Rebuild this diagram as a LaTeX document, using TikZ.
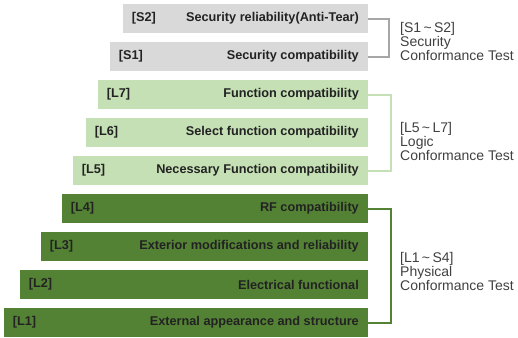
\documentclass[tikz,border=0pt]{standalone}
\usepackage{fontspec}
\setmainfont{Liberation Sans}
\usetikzlibrary{calc}
\definecolor{secgray}{HTML}{D9D9D9}
\definecolor{secline}{HTML}{A6A6A6}
\definecolor{logicgreen}{HTML}{C5E0B4}
\definecolor{physgreen}{HTML}{548235}
\definecolor{bartext}{HTML}{222222}
\definecolor{grouptext}{HTML}{404040}
\tikzset{
  bar/.style={fill=#1, draw=none, minimum height=29pt, anchor=north east, inner sep=0pt},
  tagtext/.style={anchor=west, inner sep=0pt, font=\bfseries\fontsize{12.7}{14}\selectfont, text=bartext},
  nametext/.style={anchor=east, inner sep=0pt, font=\bfseries\fontsize{12.7}{14}\selectfont, text=bartext},
  grouplabel/.style={anchor=north west, inner sep=0pt, align=left, font=\fontsize{14}{12.5}\selectfont, text=grouptext},
  bracket/.style={draw=#1, line width=2pt}
}
\begin{document}
\begin{tikzpicture}[x=1pt,y=-1pt]
  \useasboundingbox (0,0) rectangle (518,337);

  % stacked test bars: right edges aligned, left edges stepping outward
  \node[bar=secgray,    minimum width=245pt] (s2) at (368,4)   {};
  \node[bar=secgray,    minimum width=258pt] (s1) at (368,42)  {};
  \node[bar=logicgreen, minimum width=270pt] (l7) at (368,80)  {};
  \node[bar=logicgreen, minimum width=282pt] (l6) at (368,118) {};
  \node[bar=logicgreen, minimum width=295pt] (l5) at (368,156) {};
  \node[bar=physgreen,  minimum width=306pt] (l4) at (368,194) {};
  \node[bar=physgreen,  minimum width=327pt] (l3) at (368,232) {};
  \node[bar=physgreen,  minimum width=348pt] (l2) at (368,270) {};
  \node[bar=physgreen,  minimum width=364pt] (l1) at (368,308) {};

  % bar captions
  \foreach \b/\tag/\name in {
      s2/S2/Security reliability(Anti-Tear),
      s1/S1/Security compatibility,
      l7/L7/Function compatibility,
      l6/L6/Select function compatibility,
      l5/L5/Necessary Function compatibility,
      l4/L4/RF compatibility,
      l3/L3/Exterior modifications and reliability,
      l2/L2/Electrical functional,
      l1/L1/External appearance and structure} {
    \node[tagtext]  (\b tag)  at ($(\b.west)+(9,0)$)  {[\tag]};
    \node[nametext] (\b name) at ($(\b.east)+(-9,0)$) {\name};
  }

  % group brackets
  \draw[bracket=secline]    (s2.east) -- ++(21,0) |- (s1.east);
  \draw[bracket=logicgreen] (l7.east) -- ++(23,0) |- (l5.east);
  \draw[bracket=physgreen]  (l4.east) -- ++(23,0) |- (l1.east);

  % group labels
  \node[grouplabel] (secgroup)   at (400,22)  {[S1\,\textasciitilde\,S2]\\Security\\Conformance Test};
  \node[grouplabel] (logicgroup) at (400,122) {[L5\,\textasciitilde\,L7]\\Logic\\Conformance Test};
  \node[grouplabel] (physgroup)  at (400,252) {[L1\,\textasciitilde\,S4]\\Physical\\Conformance Test};
\end{tikzpicture}
\end{document}
